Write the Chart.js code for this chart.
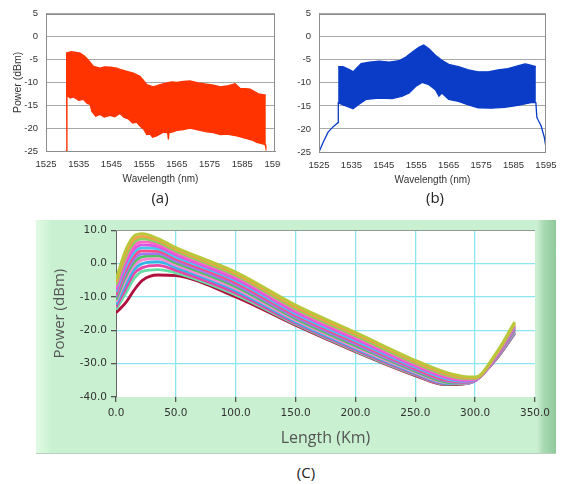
<!DOCTYPE html>
<html><head><meta charset="utf-8">
<script src="https://cdn.jsdelivr.net/npm/chart.js@4.4.0/dist/chart.umd.min.js"></script>
<style>
html,body{margin:0;padding:0;background:#fff;width:564px;height:484px;overflow:hidden;position:relative;}
.box{position:absolute;overflow:hidden;}
.lbl{position:absolute;font-family:'Open Sans',sans-serif;font-size:15px;color:#222;transform:translate(-50%,-50%);white-space:nowrap;}
#panel{position:absolute;left:36px;top:220px;width:520px;height:233px;background:linear-gradient(to right,#e2fae5 0px,#d2f5d8 10px,#c9f1d1 16px,#c9f1d1 100%);box-shadow:0 1px 0 #b9d2bd;}
#strip{position:absolute;left:501px;top:0;width:19px;height:233px;background:linear-gradient(to right,#cdeed3 0%,#a8dab2 35%,#8ec89b 100%);}
#panel canvas{position:absolute;left:0;top:0;}
</style></head><body>
<div class="box" style="left:0;top:0;width:281px;height:190px"><canvas id="ca" width="300" height="190"></canvas></div>
<div class="box" style="left:281px;top:0;width:283px;height:190px"><canvas id="cb" width="283" height="190"></canvas></div>
<div id="panel"><div id="strip"></div><canvas id="cc" width="520" height="233"></canvas></div>
<div class="lbl" style="left:160px;top:197px">(a)</div>
<div class="lbl" style="left:435px;top:197px">(b)</div>
<div class="lbl" style="left:306px;top:472px">(C)</div>
<script>
// ---------- (a) spectrum envelope (wavelength nm, power dBm)
const aUpperX = [1531.1,1532.8,1535.4,1536.8,1537.9,1539.5,1541.5,1543.0,1544.6,1546.6,1548.2,1549.7,1551.7,1553.7,1554.8,1555.8,1557.8,1559.9,1561.9,1563.5,1565.0,1567.0,1569.0,1572.1,1574.0,1576.2,1578.3,1580.3,1582.8,1584.3,1586.0,1587.4,1589.9,1592.2];
const aUpperY = [-3.6,-3.3,-3.6,-4.3,-5.1,-6.5,-6.9,-6.6,-6.7,-6.9,-7.3,-7.6,-8.0,-8.7,-9.6,-10.5,-11.0,-10.5,-10.1,-9.9,-10.0,-9.8,-9.7,-10.2,-10.4,-10.6,-11.0,-10.8,-10.3,-11.3,-11.4,-11.5,-12.5,-12.8];
const aLowerX = [1531.0,1531.2,1531.4,1532.4,1533.4,1535.0,1536.4,1537.6,1538.5,1539.0,1540.2,1541.5,1542.8,1544.6,1546.0,1547.6,1548.8,1550.2,1551.5,1552.7,1553.8,1554.8,1555.8,1556.8,1557.6,1558.8,1560.9,1562.2,1562.4,1562.6,1563.8,1565.0,1567.0,1569.0,1572.1,1574.2,1576.2,1578.3,1580.3,1583.3,1586.4,1588.0,1589.4,1591.0,1592.0,1592.2];
const aLowerY = [-25.0,-25.0,-12.8,-13.4,-13.2,-13.9,-13.7,-14.6,-14.8,-16.3,-17.4,-17.0,-17.6,-17.2,-17.5,-16.8,-17.6,-18.0,-18.9,-18.7,-19.6,-20.2,-21.4,-21.3,-22.0,-21.7,-20.9,-21.0,-22.5,-21.0,-20.8,-20.5,-20.3,-20.0,-20.5,-20.8,-21.0,-21.4,-21.3,-21.7,-22.3,-22.6,-23.1,-23.4,-23.6,-24.3];
// ---------- (b) spectrum envelope
const bUpperX = [1530.9,1532.4,1534.5,1535.6,1536.5,1538.0,1540.6,1543.6,1546.7,1549.7,1551.8,1553.8,1555.8,1557.3,1558.9,1560.9,1562.9,1565.0,1568.0,1571.1,1574.1,1577.2,1580.2,1583.3,1586.3,1588.5,1589.4,1591.9];
const bUpperY = [-6.5,-6.5,-7.2,-7.6,-6.9,-5.8,-5.5,-5.3,-5.5,-5.2,-4.4,-3.3,-2.3,-1.8,-2.6,-4.0,-5.1,-6.0,-6.5,-7.2,-7.6,-7.6,-7.2,-6.9,-6.3,-5.9,-6.0,-6.5];
const bLowerX = [1525.0,1526.3,1527.8,1529.4,1530.9,1530.95,1532.4,1534.5,1535.5,1537.0,1539.5,1543.6,1547.6,1550.7,1552.8,1554.8,1556.8,1558.9,1560.9,1562.0,1562.9,1565.0,1568.0,1571.1,1574.1,1578.2,1582.3,1586.3,1590.4,1591.9,1592.2,1593.5,1594.5,1595.0];
const bLowerY = [-25.0,-22.9,-20.7,-19.5,-18.6,-14.3,-14.8,-15.3,-15.6,-14.8,-13.6,-13.3,-13.4,-12.9,-12.2,-10.8,-9.9,-10.4,-11.5,-12.9,-12.2,-13.6,-14.0,-14.8,-15.4,-15.5,-15.3,-14.9,-14.3,-14.3,-17.5,-19.3,-21.8,-24.0];
// ---------- (c) power vs length, one array per traced curve
const cLength = [0,8,15,22,35,50,100,150,200,250,275,290,300,318,333];
const c01 = [-4.7, 4.0, 8.3, 9.0, 7.5, 4.8, -2.5,-12.4,-20.6,-29.0,-32.5,-33.8,-34.0,-26.5,-17.5];
const c02 = [-5.5, 3.0, 7.3, 8.2, 7.0, 4.3, -3.0,-13.0,-21.1,-29.4,-32.9,-34.1,-34.2,-26.8,-17.8];
const c03 = [-6.3, 2.0, 6.3, 7.4, 6.4, 3.8, -3.5,-13.5,-21.6,-29.8,-33.3,-34.4,-34.4,-27.0,-18.2];
const c04 = [-7.0, 1.0, 5.3, 6.5, 5.8, 3.2, -4.0,-14.0,-22.1,-30.3,-33.7,-34.7,-34.6,-27.3,-18.5];
const c05 = [-7.8, 0.0, 4.3, 5.6, 5.1, 2.6, -4.6,-14.5,-22.6,-30.7,-34.1,-35.0,-34.8,-27.5,-18.8];
const c06 = [-8.5,-1.0, 3.3, 4.7, 4.4, 2.0, -5.1,-15.0,-23.1,-31.1,-34.5,-35.3,-34.9,-27.6,-19.0];
const c07 = [-9.3,-2.0, 2.3, 3.8, 3.7, 1.4, -5.7,-15.5,-23.6,-31.5,-34.9,-35.5,-35.0,-27.8,-19.3];
const c08 = [-10.0,-3.0, 1.3, 2.9, 3.0, 0.8, -6.3,-16.0,-24.1,-31.9,-35.2,-35.7,-35.1,-27.9,-19.6];
const c09 = [-10.8,-4.0, 0.3, 2.0, 2.3, 0.2, -6.9,-16.5,-24.6,-32.3,-35.5,-35.8,-35.1,-28.0,-19.9];
const c10 = [-11.5,-5.0,-0.7, 1.1, 1.5,-0.5, -7.5,-17.0,-25.1,-32.6,-35.7,-35.9,-35.1,-28.1,-20.2];
const c11 = [-12.3,-6.3,-1.8, 0.0, 0.6,-1.2, -8.1,-17.5,-25.5,-32.9,-35.9,-36.0,-35.1,-28.2,-20.5];
const c12 = [-13.0,-7.6,-3.0,-1.2,-0.5,-2.0, -8.8,-17.9,-25.9,-33.2,-36.0,-36.0,-35.1,-28.3,-20.7];
const c13 = [-13.8,-9.0,-4.5,-2.3,-1.8,-2.8, -9.4,-18.2,-26.2,-33.4,-36.1,-36.0,-35.0,-28.4,-20.9];
const c14 = [-14.7,-11.8,-8.0,-5.0,-3.4,-3.6,-10.0,-18.5,-26.4,-33.6,-36.3,-36.1,-35.0,-28.5,-21.0];
const cCurves = [c01,c02,c03,c04,c05,c06,c07,c08,c09,c10,c11,c12,c13,c14];
const cColors = ['#b8c83a','#f0a048','#86d45a','#ff66c4','#e055e0','#46c8f0','#ff4a86','#a078f0','#52c266','#ff86d2','#36b4e4','#e844a8','#66dca6','#b0103e'];

const pts = (xs, ys) => xs.map((x, i) => ({x: x, y: ys[i]}));

const frame = {
  id: 'frame',
  beforeDraw(chart, args, o) {
    if (!o.bg) return;
    const {ctx, chartArea: c} = chart;
    ctx.save(); ctx.fillStyle = o.bg;
    ctx.fillRect(c.left, c.top, c.right - c.left, c.bottom - c.top);
    ctx.restore();
  },
  afterDraw(chart, args, o) {
    const {ctx, chartArea: c} = chart;
    ctx.save(); ctx.lineWidth = 1;
    if (o.box) {
      ctx.strokeStyle = o.box;
      ctx.strokeRect(Math.round(c.left) + 0.5, Math.round(c.top) + 0.5, Math.round(c.right - c.left) - 1, Math.round(c.bottom - c.top));
    }
    if (o.topLine) {
      ctx.strokeStyle = o.topLine;
      ctx.beginPath(); ctx.moveTo(c.left, Math.round(c.top) + 0.5); ctx.lineTo(c.right, Math.round(c.top) + 0.5); ctx.stroke();
    }
    ctx.restore();
  }
};

function spectrum(id, color, lowX, lowY, upX, upY, o) {
  const tickFont = {family: 'Liberation Sans', size: 9.5};
  return new Chart(document.getElementById(id), {
    type: 'line',
    data: {datasets: [
      {data: pts(lowX, lowY), borderColor: color, borderWidth: 1.3, pointRadius: 0, fill: false, tension: 0},
      {data: pts(upX, upY), borderColor: color, backgroundColor: color, borderWidth: 1.3, pointRadius: 0, fill: '-1', tension: 0}
    ]},
    options: {
      responsive: false, animation: false, events: [],
      layout: {padding: {left: 0, top: 12, right: o.padR, bottom: 0}},
      plugins: {legend: {display: false}, tooltip: {enabled: false}, frame: {box: '#8c8c8c'}},
      scales: {
        x: {type: 'linear', min: 1525, max: 1595,
            ticks: {stepSize: 10, padding: 7.5, font: tickFont, color: '#333', maxRotation: 0, autoSkip: false, callback: v => String(v)},
            grid: {display: false, drawTicks: false}, border: {display: true, color: '#8c8c8c'},
            title: {display: true, text: 'Wavelength (nm)', font: {family: 'Liberation Sans', size: 10}, color: '#333', padding: {top: 0, bottom: o.xtPad}},
            afterFit: s => { s.height = o.xh; }},
        y: {type: 'linear', min: -25, max: 5,
            ticks: {stepSize: 5, padding: 8, font: {family: 'Liberation Sans', size: 9.5}, color: '#333', callback: v => String(v)},
            grid: {color: '#a8a8a8', drawTicks: false}, border: {display: true, color: '#8c8c8c'},
            title: o.ytitle ? {display: true, text: o.ytitle, font: {family: 'Liberation Sans', size: 10.5}, color: '#333', padding: {top: 11.4, bottom: 0}} : {display: false},
            afterFit: s => { s.width = o.yw; }}
      }
    },
    plugins: [frame]
  });
}

spectrum('ca', '#ff3300', aLowerX, aLowerY, aUpperX, aUpperY, {padR: 25, xh: 39, yw: 46, xtPad: 5, ytitle: 'Power (dBm)'});
spectrum('cb', '#0a3cc8', bLowerX, bLowerY, bUpperX, bUpperY, {padR: 16, xh: 38, yw: 38, xtPad: 4, ytitle: null});

new Chart(document.getElementById('cc'), {
  type: 'line',
  data: {datasets: cCurves.map((c, i) => ({
    data: pts(cLength, c), borderColor: cColors[i], borderWidth: 2.8, pointRadius: 0,
    fill: false, cubicInterpolationMode: 'monotone'
  }))},
  options: {
    responsive: false, animation: false, events: [],
    layout: {padding: {left: 0, top: 8, right: 21, bottom: 0}},
    plugins: {legend: {display: false}, tooltip: {enabled: false}, frame: {bg: '#ffffff', topLine: '#8f9a92'}},
    scales: {
      x: {type: 'linear', min: 0, max: 350,
          ticks: {stepSize: 50, padding: 4.7, font: {family: 'DejaVu Sans', size: 10.5}, color: '#333', maxRotation: 0, autoSkip: false, callback: v => v.toFixed(1)},
          grid: {color: c => (c.tick && (c.tick.value === 0 || c.tick.value === 350)) ? 'rgba(0,0,0,0)' : '#8ae6f0', lineWidth: 1.3, tickColor: '#555', tickLength: 5},
          border: {display: false},
          title: {display: true, text: 'Length (Km)', font: {family: 'Open Sans', size: 16}, color: '#555', padding: {top: 0, bottom: 5.4}},
          afterFit: s => { s.height = 56; }},
      y: {type: 'linear', min: -40, max: 10,
          ticks: {stepSize: 10, padding: 4, font: {family: 'DejaVu Sans', size: 10.5}, color: '#333', callback: v => v.toFixed(1)},
          grid: {color: c => (c.tick && (c.tick.value === -40 || c.tick.value === 10)) ? 'rgba(0,0,0,0)' : '#8ae6f0', lineWidth: 1.3, tickColor: '#555', tickLength: 5},
          border: {display: true, color: '#666', width: 1},
          title: {display: true, text: 'Power (dBm)', font: {family: 'Open Sans', size: 15}, color: '#555', padding: {top: 15, bottom: 0}},
          afterFit: s => { s.width = 80; }}
    }
  },
  plugins: [frame]
});
</script>
</body></html>
